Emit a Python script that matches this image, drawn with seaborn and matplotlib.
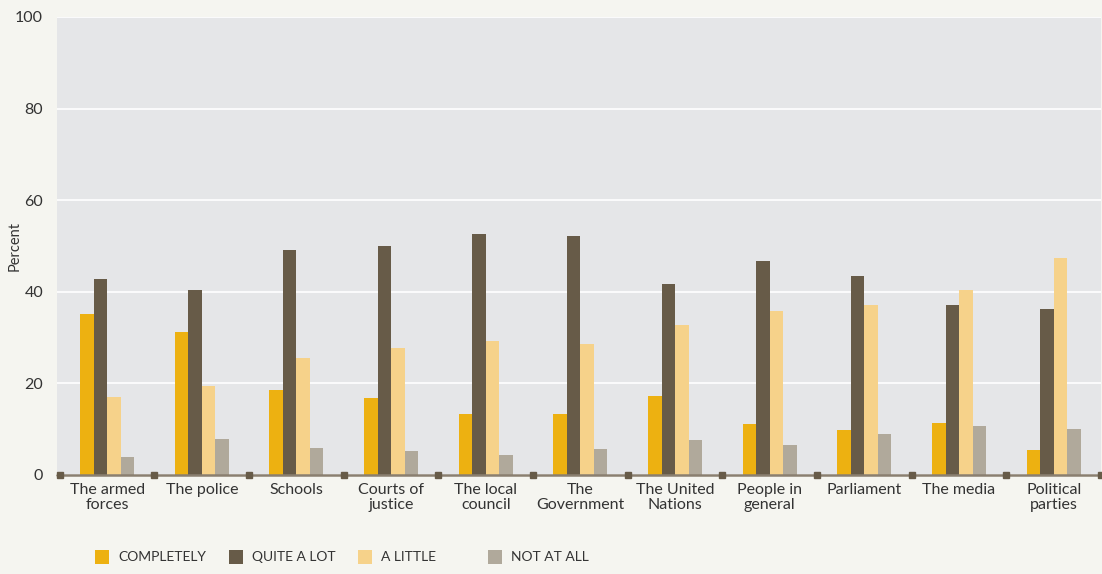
import pandas as pd
import numpy as np
import seaborn as sns
import matplotlib.pyplot as plt
from matplotlib.patches import Rectangle

# categories and values (percent)
institutions = ['The armed\nforces', 'The police', 'Schools', 'Courts of\njustice',
                'The local\ncouncil', 'The\nGovernment', 'The United\nNations',
                'People in\ngeneral', 'Parliament', 'The media', 'Political\nparties']
completely = [35.2, 31.3, 18.6, 16.8, 13.3, 13.3, 17.3, 11.2, 9.8, 11.4, 5.5]
quite_a_lot = [42.9, 40.5, 49.2, 49.9, 52.7, 52.1, 41.6, 46.8, 43.5, 37.2, 36.3]
a_little = [17.1, 19.5, 25.6, 27.8, 29.3, 28.7, 32.8, 35.7, 37.2, 40.5, 47.3]
not_at_all = [3.9, 7.9, 5.9, 5.3, 4.4, 5.7, 7.7, 6.6, 9.0, 10.7, 10.1]
levels = ['COMPLETELY', 'QUITE A LOT', 'A LITTLE', 'NOT AT ALL']
palette = ['#EDB111', '#675B48', '#F6D28A', '#B0A99B']

# long format for seaborn
df = pd.DataFrame({
    'Institution': institutions * 4,
    'Level': np.repeat(levels, len(institutions)),
    'Percent': completely + quite_a_lot + a_little + not_at_all,
})

sns.set_theme(style='darkgrid')
plt.rcParams['font.family'] = ['Lato', 'DejaVu Sans']

W, H = 1102, 574
fig = plt.figure(figsize=(W / 100, H / 100), dpi=100, facecolor='#F5F5F0')
ax = fig.add_axes([57 / W, 1 - 475 / H, 1044 / W, 458 / H])
ax.set_facecolor('#E5E6E8')

sns.barplot(data=df, x='Institution', y='Percent', hue='Level', hue_order=levels,
            order=institutions, palette=palette, width=0.57, saturation=1,
            linewidth=0, ax=ax)

ax.set_ylim(0, 100)
ax.set_xlim(-0.53, len(institutions) - 0.5)
ax.set_yticks([0, 20, 40, 60, 80, 100])
ax.grid(axis='y', color='white', linewidth=1.2)
ax.grid(axis='x', visible=False)
for s in ax.spines.values():
    s.set_visible(False)
ax.axhline(0, color='#8A7F70', linewidth=1.8, zorder=5, clip_on=False)

# small square markers at the group boundaries
bounds = np.arange(len(institutions) + 1) - 0.5
ax.plot(bounds, [0] * len(bounds), 's', ms=4.5, color='#675B48', clip_on=False, zorder=6)

ax.tick_params(axis='both', length=0, labelsize=11.5, labelcolor='#333333')
ax.tick_params(axis='x', pad=6)
ax.tick_params(axis='y', pad=10)
for lbl in ax.get_xticklabels():
    lbl.set_linespacing(1.1)
ax.set_xlabel('')
ax.set_ylabel('Percent', fontsize=10.5, color='#333333')
ax.yaxis.set_label_coords((22 - 57) / 1044, 0.5)

ax.get_legend().remove()

# legend along the bottom, fixed slots like the original
legend_x = [95, 229, 358, 488]
for x0, c, name in zip(legend_x, palette, levels):
    fig.add_artist(Rectangle((x0 / W, 1 - 564 / H), 14 / W, 14 / H,
                             transform=fig.transFigure, color=c, linewidth=0))
    fig.text((x0 + 23) / W, 1 - 557 / H, name, fontsize=10, color='#333333',
             va='center', ha='left')

fig.savefig('out.png', dpi=100, facecolor=fig.get_facecolor())
